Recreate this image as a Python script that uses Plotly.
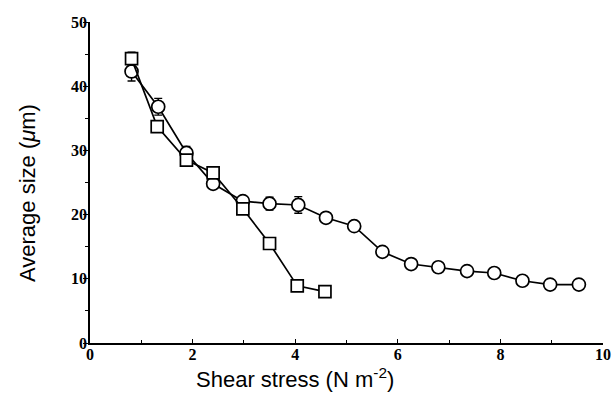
import plotly.graph_objects as go

# Circles series
circ_x = [0.81, 1.33, 1.88, 2.40, 2.98, 3.50, 4.06, 4.60, 5.15, 5.70, 6.26, 6.79, 7.35, 7.88, 8.43, 8.97, 9.53]
circ_y = [42.3, 36.8, 29.6, 24.8, 22.1, 21.7, 21.5, 19.5, 18.2, 14.2, 12.3, 11.8, 11.2, 10.9, 9.7, 9.1, 9.1]
circ_err = [1.5, 1.3, 1.0, 0, 0, 1.0, 1.3, 0, 0, 0, 0, 0, 0, 0, 0, 0, 0]

# Squares series
sq_x = [0.81, 1.31, 1.88, 2.40, 2.98, 3.50, 4.04, 4.58]
sq_y = [44.3, 33.7, 28.5, 26.5, 20.9, 15.5, 8.9, 8.0]
sq_err = [1.0, 0, 0, 0, 0, 0, 0, 0]

x_ticks = [0, 2, 4, 6, 8, 10]
y_ticks = [0, 10, 20, 30, 40, 50]
x_title = "Shear stress (N m<sup>-2</sup>)"
y_title = "Average size (<i>μ</i>m)"

fig = go.Figure()
fig.add_trace(go.Scatter(
    x=circ_x, y=circ_y, mode="lines+markers",
    line=dict(color="black", width=1.7),
    marker=dict(symbol="circle", size=13, color="white", line=dict(color="black", width=1.7)),
    error_y=dict(type="data", array=circ_err, visible=True, color="black", thickness=1.4, width=4),
    showlegend=False))
fig.add_trace(go.Scatter(
    x=sq_x, y=sq_y, mode="lines+markers",
    line=dict(color="black", width=1.7),
    marker=dict(symbol="square", size=12, color="white", line=dict(color="black", width=1.7)),
    error_y=dict(type="data", array=sq_err, visible=True, color="black", thickness=1.4, width=4),
    showlegend=False))

tickfont = dict(family="Liberation Serif", size=16, color="black")
fig.update_layout(
    width=616, height=396,
    margin=dict(l=90, r=13, t=22, b=53),
    paper_bgcolor="white", plot_bgcolor="white",
    font=dict(family="Liberation Sans", color="black"),
    xaxis=dict(range=[0, 10], tickvals=x_ticks, ticktext=[f"<b>{v}</b>" for v in x_ticks],
               automargin=False, ticklabelstandoff=-4,
               showline=True, linecolor="black", linewidth=1.5, ticks="inside", ticklen=4,
               tickcolor="black", showgrid=False, zeroline=False, tickfont=tickfont,
               minor=dict(dtick=1, ticks="inside", ticklen=3, tickcolor="black")),
    yaxis=dict(range=[0, 50], tickvals=y_ticks, ticktext=[f"<b>{v}</b>" for v in y_ticks],
               automargin=False, ticklabelstandoff=-7,
               showline=True, linecolor="black", linewidth=1.5, ticks="outside", ticklen=5,
               tickcolor="black", showgrid=False, zeroline=False, tickfont=tickfont,
               minor=dict(dtick=5, ticks="outside", ticklen=3, tickcolor="black")),
    annotations=[
        dict(text=x_title, xref="paper", yref="paper", x=0.40, y=-0.109,
             xanchor="center", yanchor="middle", showarrow=False, font=dict(size=22)),
        dict(text=y_title, xref="paper", yref="paper", x=-0.123, y=0.467, textangle=-90,
             xanchor="center", yanchor="middle", showarrow=False, font=dict(size=22)),
    ],
)
fig.write_html("out.html", config={"displayModeBar": False},
               post_script="document.body.style.margin='0';")
